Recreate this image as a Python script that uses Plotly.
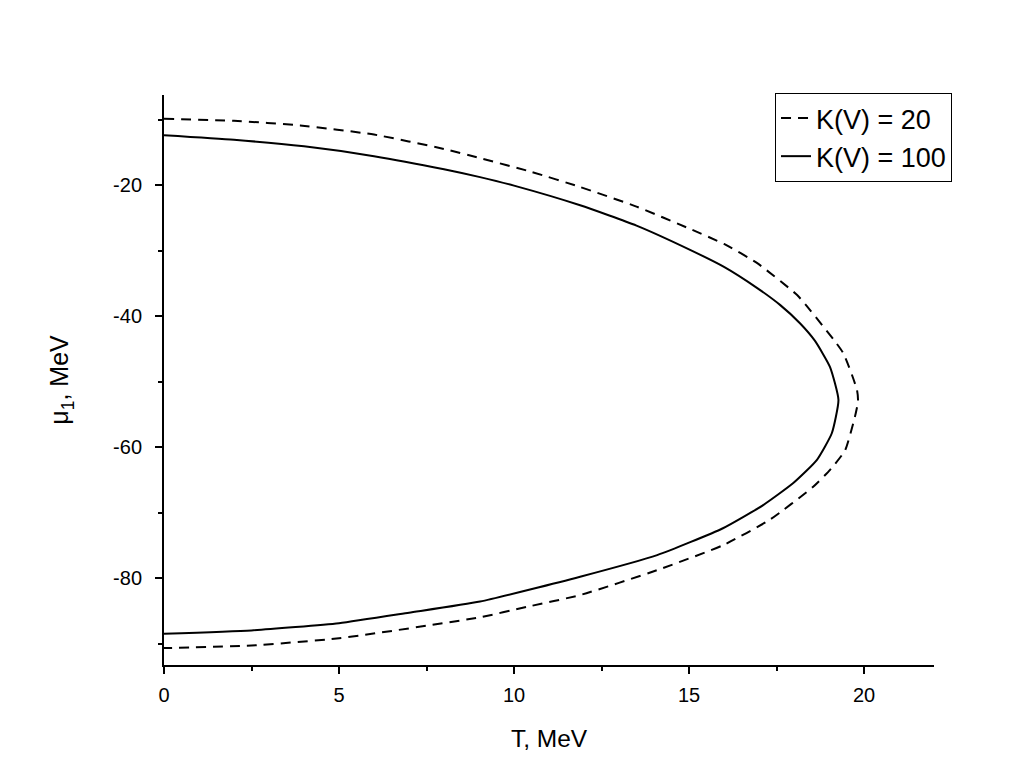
import plotly.graph_objects as go

# K(V) = 20 (dashed), traced from top-left round the tip to bottom-left
t_k20 = [0, 2, 3.89, 6, 8, 9.03, 10.5, 11.89, 13.5, 15.03, 16, 16.94, 18.09, 18.46,
         19.4, 19.8, 19.83, 19.74, 19.46, 19.03, 18.54, 17.31, 15.97, 14.09, 11.89,
         10.37, 9.03, 5, 2.5, 0]
mu_k20 = [-9.9, -10.2, -10.9, -12.3, -14.5, -15.9, -18.0, -20.3, -23.3, -26.7, -29.0,
          -31.9, -36.8, -39.1, -45.6, -51.3, -53.0, -55.4, -60.5, -63.5, -66.1, -71.1,
          -75.0, -78.8, -82.6, -84.4, -86.0, -89.2, -90.3, -90.7]

# K(V) = 100 (solid)
t_k100 = [0, 2, 4, 6, 8, 9.03, 10, 11.89, 13.5, 15.03, 16, 16.94, 17.6, 18.17, 18.6,
          19.03, 19.27, 19.08, 18.65, 17.98, 17.11, 15.97, 14.09, 11.89, 9.03,
          7, 5, 2.5, 0]
mu_k100 = [-12.4, -13.1, -14.1, -15.6, -17.6, -18.8, -20.1, -23.1, -26.2, -29.9, -32.5,
           -35.7, -38.3, -41.1, -43.8, -47.8, -52.8, -57.9, -62.0, -65.5, -68.9,
           -72.4, -76.5, -79.8, -83.6, -85.3, -86.9, -88.0, -88.5]

x_ticks = [0, 5, 10, 15, 20]
y_ticks = [-80, -60, -40, -20]
y_ticktext = ["-80", "-60", "-40", "-20"]

font = "Liberation Sans, Arial, sans-serif"

fig = go.Figure()
fig.add_trace(go.Scatter(x=t_k20, y=mu_k20, mode="lines", name="K(V) = 20",
                         line=dict(color="black", width=2, dash="10px,7px",
                                   shape="spline", smoothing=0.5)))
fig.add_trace(go.Scatter(x=t_k100, y=mu_k100, mode="lines", name="K(V) = 100",
                         line=dict(color="black", width=2,
                                   shape="spline", smoothing=0.5)))

# page body adds 8px margin, so the figure is shrunk by that much
fig.update_layout(
    width=1008, height=752,
    margin=dict(l=156, r=82, t=87, b=95),
    paper_bgcolor="white", plot_bgcolor="white",
    font=dict(family=font, color="black"),
    showlegend=True,
    legend=dict(x=1.0234, y=1.0035, xanchor="right", yanchor="top",
                bordercolor="black", borderwidth=1, bgcolor="white",
                font=dict(size=27, family=font), tracegroupgap=0),
)
fig.update_xaxes(
    range=[0, 22], tickmode="array", tickvals=x_ticks, automargin=False,
    showgrid=False, zeroline=False, showline=True, linecolor="black", linewidth=2,
    ticks="outside", ticklen=7, tickwidth=2, tickcolor="black", ticklabelstandoff=4,
    minor=dict(tickvals=[2.5, 7.5, 12.5, 17.5], ticks="outside", ticklen=4,
               tickwidth=2, tickcolor="black"),
    tickfont=dict(size=20, family=font),
    title=dict(text="T, MeV", font=dict(size=24.5, family=font), standoff=25),
)
fig.update_yaxes(
    range=[-93.28, -6.26], tickmode="array", tickvals=y_ticks, ticktext=y_ticktext,
    automargin=False,
    showgrid=False, zeroline=False, showline=True, linecolor="black", linewidth=2,
    ticks="outside", ticklen=7, tickwidth=2, tickcolor="black", ticklabelstandoff=9,
    minor=dict(tickvals=[-90, -70, -50, -30, -10], ticks="outside", ticklen=4,
               tickwidth=2, tickcolor="black"),
    tickfont=dict(size=20, family=font),
    title=dict(text="μ<sub>1</sub>, MeV", font=dict(size=25, family=font), standoff=37),
)

fig.write_html("out.html")
